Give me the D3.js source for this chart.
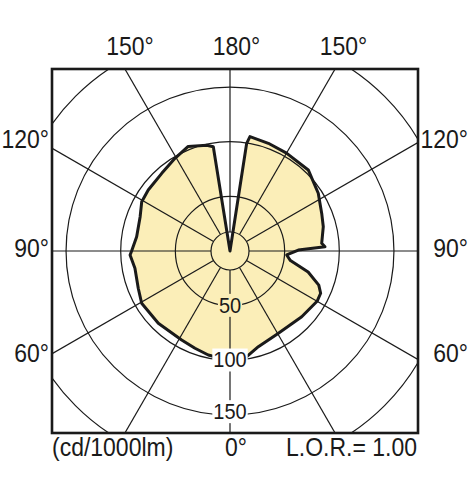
<!DOCTYPE html>
<html><head><meta charset="utf-8">
<script src="https://cdn.jsdelivr.net/npm/d3@7"></script>
<style>
html,body{margin:0;padding:0;background:#fff;}
text{font-family:"Liberation Sans",Arial,Helvetica,sans-serif;fill:#1a1a1a;}
</style></head>
<body><svg id="c" width="470" height="500"></svg>
<script>
// ---- data ----
// gamma: 0 = straight down, increasing through the right half (to 180 = up), then the left half back to 360
const curveAngles = [0, 9, 16.5, 30, 47.5, 60, 65, 69, 75, 81, 86, 90.8, 92.6, 94.8, 104.6, 112.3, 123.2, 136, 150, 160.4, 170.1, 171.2, 180,
  189.1, 192.4, 201.8, 210.7, 221.3, 233.3, 240.8, 249.1, 261.3, 270, 272.3, 280.3, 292.1, 300.6, 315.2, 331.5, 340.2, 348.2, 351.9, 360];
const curveValues = [98, 97.9, 91.3, 87.3, 89, 92, 91.5, 87, 74, 56, 52, 62.5, 87, 84.2, 88.2, 90.7, 96.5, 103.1, 103.4, 104.6, 106.2, 99.7, 0,
  96.6, 99, 103, 98.6, 94.6, 93.3, 92.5, 88, 86.4, 90, 91.5, 88.4, 90.6, 93.9, 93.1, 92.7, 94.6, 97.2, 97.7, 98];
const ringValues = [50, 100, 150, 200];
const hubValue = 17.4;
const ringLabels = ["50", "100", "150"];
const spokeAngles = d3.range(0, 360, 30);
const topLabels = ["150°", "180°", "150°"];
const sideLabels = ["120°", "90°", "60°"];
const unitLabel = "(cd/1000lm)";
const zeroLabel = "0°";
const lorLabel = "L.O.R.= 1.00";

// ---- layout ----
const cx = 230, cy = 251;
const box = {x0: 52, y0: 69, x1: 418, y1: 433};
const r = d3.scaleLinear().domain([0, 200]).range([0, 218.6]);
const rad = g => Math.PI - g * Math.PI / 180;   // gamma -> d3 radial angle
const fillCol = "#fbeeb8";
const sy = 1.1; // slight vertical stretch of the lettering

function label(parent, x, y, t, size, anchor) {
  return parent.append("text")
    .attr("transform", `translate(${x},${y}) scale(1,${sy})`)
    .attr("text-anchor", anchor || "start").attr("font-size", size).text(t);
}

const svg = d3.select("#c");
svg.append("rect").attr("width", 470).attr("height", 500).attr("fill", "#fff");
svg.append("clipPath").attr("id", "clip").append("rect")
  .attr("x", box.x0).attr("y", box.y0).attr("width", box.x1 - box.x0).attr("height", box.y1 - box.y0);

const g = svg.append("g").attr("clip-path", "url(#clip)");
const plot = g.append("g").attr("transform", `translate(${cx},${cy})`);

// fill
const pts = curveAngles.map((a, i) => [rad(a), r(curveValues[i])]);
const line = d3.lineRadial().curve(d3.curveLinearClosed);
plot.append("path").attr("d", line(pts)).attr("fill", fillCol).attr("stroke", "none");

// grid
plot.selectAll("circle.ring").data(ringValues.concat([hubValue])).join("circle")
  .attr("r", d => r(d)).attr("fill", "none").attr("stroke", "#1a1a1a").attr("stroke-width", 1.2);
plot.selectAll("line.spoke").data(spokeAngles).join("line")
  .attr("x1", d => r(hubValue) * Math.sin(d * Math.PI / 180))
  .attr("y1", d => r(hubValue) * Math.cos(d * Math.PI / 180))
  .attr("x2", d => 400 * Math.sin(d * Math.PI / 180))
  .attr("y2", d => 400 * Math.cos(d * Math.PI / 180))
  .attr("stroke", "#1a1a1a").attr("stroke-width", 1.2);

// curve outline
plot.append("path").attr("d", line(pts)).attr("fill", "none")
  .attr("stroke", "#1a1a1a").attr("stroke-width", 3).attr("stroke-linejoin", "round");

// ring labels with background boxes
ringLabels.forEach((t, i) => {
  const v = ringValues[i];
  const lg = plot.append("g");
  const yb = r(v) + 7 - (i === 2 ? 3 : 0);
  const tx = label(lg, 0, yb, t, 20, "middle");
  const bb = tx.node().getBBox();
  lg.insert("rect", "text").attr("x", bb.x - 1).attr("y", yb + (bb.y + 1) * sy)
    .attr("width", bb.width + 2).attr("height", (bb.height - 1) * sy)
    .attr("fill", i === 0 ? fillCol : "#fff");
});

// frame
svg.append("rect").attr("x", box.x0).attr("y", box.y0).attr("width", box.x1 - box.x0).attr("height", box.y1 - box.y0)
  .attr("fill", "none").attr("stroke", "#1a1a1a").attr("stroke-width", 2.6);

// angle labels
const fs = 23;
const topX = [130, 236.5, 343.5];
topLabels.forEach((t, i) => label(svg, topX[i], 55, t, fs, "middle"));
const sideY = [148, 257, 362];
sideLabels.forEach((t, i) => {
  label(svg, 49, sideY[i], t, fs, "end");
  label(svg, 468, sideY[i], t, fs, "end");
});
label(svg, 52, 456, unitLabel, fs, "start");
label(svg, 236, 456, zeroLabel, fs, "middle");
label(svg, 417, 456, lorLabel, fs, "end");
</script>
</body></html>
